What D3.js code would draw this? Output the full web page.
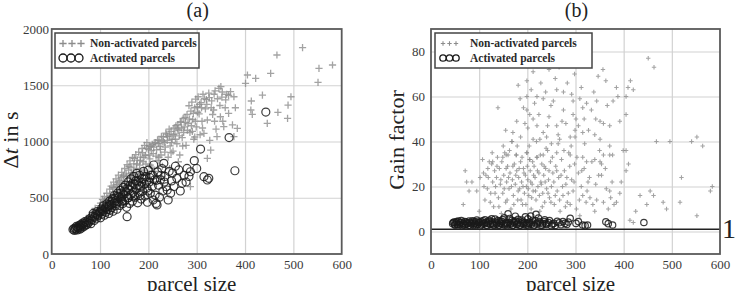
<!DOCTYPE html>
<html><head><meta charset="utf-8">
<script src="https://cdn.jsdelivr.net/npm/d3@7"></script>
<style>
html,body{margin:0;padding:0;background:#fff;}
svg{display:block;font-family:"Liberation Serif","DejaVu Serif",serif;}
svg text{font-family:"Liberation Serif","DejaVu Serif",serif;}
</style></head>
<body><svg id="chart" width="739" height="291"></svg>
<script>
// ---------------- data ----------------
const panelTitles = ["(a)", "(b)"];
const xLabel = "parcel size";
const yLabelB = "Gain factor";
const legendLabels = ["Non-activated parcels", "Activated parcels"];
const xTicks = [0, 100, 200, 300, 400, 500, 600];
const yTicksA = [0, 500, 1000, 1500, 2000];
const yTicksB = [0, 20, 40, 60, 80];
const gainReference = 1;
const gainReferenceLabel = "1";

// panel (a): [parcel size, Δt in s]
const aNonActivated = [
[52,238],[56,221],[59,265],[63,247],[66,290],[69,262],[72,318],[74,284],[78,341],[81,300],[84,372],[87,329],[90,405],[93,356],[95,388],[99,430],[98,362],
[101,452],[103,398],[105,486],[107,425],[109,511],[111,463],[113,372],[114,540],[116,497],[118,452],[120,576],[121,515],[123,604],[125,471],[126,553],[128,639],[130,522],[131,590],[133,668],[135,545],[136,620],[138,701],[140,577],[141,655],[143,512],[145,726],[146,610],[148,688],[150,559],
[151,760],[153,642],[154,712],[156,795],[158,603],[159,745],[161,682],[162,828],[164,770],[166,640],[167,858],[169,725],[170,802],[172,690],[174,883],[175,760],[177,834],[179,705],[180,905],[182,790],[184,862],[185,668],[187,938],[189,820],[190,745],[192,965],[194,878],[195,800],[197,990],[199,712],[200,930],
[202,960],[203,846],[205,958],[207,772],[208,975],[210,892],[212,985],[213,735],[215,990],[217,926],[219,1015],[220,830],[222,1010],[224,958],[226,880],[227,1046],[229,780],[231,1040],[233,990],[234,905],[236,1075],[238,1065],[240,1043],[241,860],[243,1110],[245,962],[247,1090],[249,1020],
[251,915],[253,1120],[255,1068],[257,1140],[259,980],[261,1150],[263,1100],[265,880],[266,1172],[268,1175],[270,1035],[272,1205],[274,1130],[276,1215],[278,965],[280,1240],[282,1160],[284,1318],[286,1080],[288,1270],[290,1350],[292,1195],[294,1020],[296,1300],[298,1376],[299,1130],
[301,1310],[303,1398],[305,1245],[307,1060],[309,1345],[311,1180],[313,1420],[315,1072],[318,1290],[320,1372],[322,1191],[325,1430],[327,1010],[329,924],[331,1362],[333,1240],[335,1280],[338,1450],[340,1110],[342,1043],[346,1473],[348,1320],[349,1220],[352,1395],[354,1180],[356,1132],[359,1300],[362,1420],[366,1250],[370,1443],[374,1147],[377,1398],[380,1300],[384,1117],[377,1043],
[287,599],[322,850],[296,1040],[262,820],[244,760],[228,690],[210,640],[193,600],[176,560],[160,530],[142,470],[125,400],
[108,470],[119,505],[127,590],[134,600],[139,640],[144,680],[149,700],[155,690],[160,780],[165,720],[171,850],[176,800],[183,830],[188,900],[191,860],[196,940],[201,880],[206,920],[211,950],[216,870],[221,980],[225,930],[230,1000],[235,950],[239,1010],[244,1050],[248,990],[252,1060],[256,1020],[260,1110],[264,1050],[269,1120],[273,1080],[277,1170],[281,1100],[285,1200],[289,1140],[293,1250],[297,1180],[302,1260],[306,1330],[310,1300],[316,1380],[321,1330],[326,1390],[330,1300],[336,1420],[343,1380],[353,1440],[360,1370],[366,1410],[168,650],[186,720],[204,790],[222,860],[247,900],[271,960],[291,1090],[312,1120],[337,1180],
[350,1487],[405,1591],[422,1561],[401,1517],[453,1606],[466,1769],[519,1834],[553,1650],[581,1680],[551,1526],[436,1413],[413,1360],[495,1398],[489,1324],[468,1259],[488,1206],[446,1161],[412,1280],[415,1242]
];
const aActivated = [
[44,218],[46,226],[47,210],[49,232],[50,221],[51,245],[53,214],[54,236],[55,228],[56,252],[58,220],[59,241],[60,262],[61,230],[63,254],[64,275],[66,242],[67,268],[69,289],[70,255],[72,280],[73,262],[75,301],[76,276],[78,292],[80,318],[81,270],[83,305],[85,336],[86,361],[88,298],[89,330],[91,352],[93,318],[94,378],[96,340],[98,365],[100,376],[101,322],[103,402],[104,355],[106,381],[107,428],[109,345],[111,409],[112,372],[114,446],[115,395],[117,421],[118,360],[120,470],[121,391],[123,440],[124,412],[126,492],[127,380],[129,455],[130,520],[132,428],[133,475],[135,398],[136,540],[138,462],[139,505],[141,432],[142,566],[144,488],[145,509],[147,448],[148,592],[149,530],[151,471],[152,612],[154,552],[155,415],[156,332],[157,498],[158,640],[160,575],[161,450],[163,525],[164,668],[166,598],[167,470],[169,548],[170,690],[172,622],[173,505],[175,580],[176,717],[178,455],[179,650],[181,540],[182,700],[184,602],[185,488],[187,672],[188,560],[190,735],[192,620],[193,515],[195,690],[197,587],[198,460],[200,745],[202,640],[204,540],[206,702],[208,599],[210,480],[211,791],[213,660],[214,524],[216,450],[218,436],[219,730],[221,612],[223,505],[225,660],[228,760],[230,560],[232,806],[234,690],[237,598],[239,569],[241,480],[243,735],[246,540],[248,650],[250,720],[253,600],[256,780],[259,673],[263,747],[266,560],[270,628],[274,700],[278,640],[280,761],[284,690],[287,731],[295,830],[300,760],[308,933],[315,687],[322,658],[325,673],[367,1035],[379,740],[443,1262],
[95,350],[105,392],[113,420],[119,440],[125,468],[131,495],[137,515],[143,540],[150,560],[157,585],[162,610],[168,630],[174,650],[180,612],[186,640],[191,668],[196,640],[203,680],[209,700],[217,655],[226,700],[233,640],[120,430],[134,450],[146,470],[159,500],[171,520],[183,520],[199,560]
];

// panel (b): [parcel size, gain factor]
const bNonActivated = [
[67,12],[71,27],[74,22],[79,18],[85,22],[95,18],[100,9],[102,24],[107,32],[109,26],[112,14],[114,25],[117,19],[119,24],[121,31],[124,17],[126,30],[128,22],[130,11],[132,27],[134,20],[136,24],[138,33],[140,15],[142,28],[144,21],[146,8],[147,31],[149,17],[151,25],[153,35],[155,13],[157,22],[159,29],[160,34],[162,19],[164,26],[166,10],[168,40],[169,23],[171,16],[173,30],[175,21],[177,34],[178,27],[180,14],[182,24],[184,19],[186,31],[188,22],[190,12],[192,28],[194,17],[196,25],[198,20],[199,35],[201,23],[203,16],[205,32],[206,27],[208,10],[210,21],[212,18],[214,29],[216,24],[218,14],[220,33],[222,20],[224,26],[226,9],[228,22],[230,30],[232,17],[234,25],[236,13],[238,28],[240,19],[242,36],[244,23],[246,15],[248,31],[250,20],[253,26],[256,12],[259,29],[262,18],[265,24],[268,9],[271,32],[274,16],[277,27],[280,21],[283,13],[286,35],[289,12],[292,23],[295,18],[298,30],[302,10],[306,26],[309,7],[312,20],[315,16],[318,28],[322,13],[326,22],[330,15],[334,31],[340,9],[344,14],[348,25],[354,30],[358,13],[364,19],[371,18],[373,15],[380,12],[385,13],[395,22],[405,27],[413,5],[420,4],[434,16],[448,12],[455,18],[462,16],[482,13],[489,10],[517,13],[520,24],[552,7],[580,18],
[110,20],[118,28],[123,13],[127,35],[133,17],[137,29],[141,11],[145,23],[150,38],[152,19],[156,28],[158,14],[161,24],[163,36],[167,20],[170,29],[172,12],[176,25],[179,38],[181,18],[183,28],[187,14],[189,33],[191,20],[193,26],[197,12],[200,29],[202,19],[204,38],[207,22],[209,15],[211,31],[213,25],[217,18],[219,40],[221,27],[225,16],[227,34],[229,21],[231,11],[235,29],[237,22],[239,37],[243,17],[245,27],[249,13],[252,33],[255,22],[258,16],[261,27],[264,39],[267,14],[270,25],[273,20],[276,36],[279,11],[282,24],[285,17],[288,29],[291,38],[297,22],[303,33],[308,14],[313,27],[319,39],[324,18],[329,24],[336,12],[342,21],[350,36],[362,28],[368,10],[376,22],[392,17],[410,30],[425,9],
[128,31],[149,33],[156,34],[177,34],[199,35],[205,32],[220,33],[233,34],[261,35],[289,34],[315,33],[323,31],[340,32],[351,31],[354,25],[358,34],[371,34],[377,34],[371,38],[399,36],[405,36],[340,43],[299,42],[468,40],[496,40],[552,42],
[139,55],[181,65],[199,67],[170,44],[212,71],[245,72],[266,73],[286,79],[304,79],[315,76],[357,72],[347,69],[363,67],[385,64],[409,64],[405,60],[388,60],[405,52],[451,77],[463,73],[185,59],[199,60],[220,60],[233,59],[254,58],[261,63],[275,62],[295,58],[309,59],[323,57],[344,58],[315,55],[333,54],[295,52],[301,50],[351,49],[358,48],[371,47],[199,54],[205,52],[212,50],[195,48],[201,46],[220,47],[233,44],[245,51],[275,54],[261,47],[272,49],[289,42],[299,45],[250,39],[267,41],[240,42],[226,41],[212,41],[315,44],[351,41],[168,40],
[155,45],[178,49],[186,42],[192,55],[208,63],[215,57],[224,52],[228,66],[238,62],[242,47],[249,56],[258,68],[264,43],[280,48],[283,66],[292,61],[298,70],[306,47],[312,64],[318,50],[327,45],[338,62],[342,50],[366,56],[378,58],[392,49],[414,67],[420,63],[541,40],[564,38],[584,20]
];
const bActivated = [
[45,3.5],[48,4.2],[50,2.8],[52,3.9],[55,3.2],[57,4.6],[60,3.0],[62,4.0],[65,2.6],[67,3.7],[70,4.4],[72,3.1],[75,3.8],[78,2.7],[80,4.1],[83,3.4],[86,4.8],[88,2.9],[91,3.6],[94,4.3],[96,3.0],[99,3.9],[102,2.5],[104,4.5],[107,3.3],[110,3.9],[112,5.2],[115,2.8],[118,3.7],[120,4.4],[123,3.1],[126,5.6],[128,3.5],[131,2.7],[134,4.2],[136,3.3],[139,4.9],[142,2.9],[144,3.8],[147,4.5],[150,3.0],[152,6.1],[155,3.6],[158,2.6],[160,7.9],[162,4.0],[165,3.2],[168,5.0],[170,2.8],[173,3.9],[176,4.6],[178,3.1],[181,5.4],[184,2.7],[187,3.7],[190,4.3],[193,3.0],[196,6.5],[199,3.5],[202,2.6],[205,4.1],[208,3.2],[211,5.0],[214,2.9],[218,7.6],[221,3.8],[225,4.4],[228,2.7],[232,3.5],[236,5.2],[240,3.1],[244,4.0],[250,2.6],[255,3.6],[262,4.5],[270,3.0],[278,3.6],[285,4.2],[289,5.9],[301,3.6],[306,4.4],[315,2.9],[320,2.6],[325,2.9],[363,4.3],[368,3.5],[377,2.9],[442,4.0],
[46,4.0],[49,3.1],[53,4.4],[56,2.9],[59,3.8],[63,4.9],[66,3.3],[69,2.8],[73,4.2],[76,3.5],[79,4.7],[82,2.6],[85,3.9],[89,4.4],[92,2.8],[95,5.1],[98,3.3],[101,4.1],[105,2.9],[108,4.8],[111,3.4],[114,4.0],[117,2.6],[121,5.0],[124,3.6],[127,4.3],[130,3.0],[133,5.5],[137,3.8],[140,2.7],[143,4.6],[146,3.4],[149,5.3],[153,2.9],[156,4.1],[159,3.3],[163,5.8],[166,3.7],[169,2.7],[172,4.5],[175,6.8],[179,3.4],[182,4.2],[186,2.9],[189,5.1],[192,3.7],[195,4.0],[198,2.8],[201,5.6],[204,3.4],[207,6.9],[210,3.9],[213,2.6],[216,4.7],[220,3.3],[223,6.0],[227,3.9],[231,2.8],[235,4.4],[239,3.6],[246,4.9],[252,3.3],[258,2.7],[266,3.9],[274,4.4],[282,3.1]
];

// ---------------- drawing ----------------
const svg = d3.select("#chart");
const FONT = '"Liberation Serif","DejaVu Serif",serif';
const panels = [
  {title: panelTitles[0], xr: [51.7, 341.7], yDom: [0, 2000], yTicks: yTicksA,
   non: aNonActivated, act: aActivated, cross: 3.6, crossW: 1.3, r: 4, tickRight: 49, ylabX: 18,
   legend: {x: 55, y: 33, w: 144, h: 35}},
  {title: panelTitles[1], xr: [431, 720], yDom: [-10, 90], yTicks: yTicksB,
   non: bNonActivated, act: bActivated, cross: 2.2, crossW: 1.1, r: 3.2, tickRight: 425, ylabX: 404,
   legend: {x: 435, y: 33, w: 157, h: 35}, refLine: true}
];
const yr = [254, 29];

panels.forEach((p, i) => {
  const x = d3.scaleLinear().domain([0, 600]).range(p.xr);
  const y = d3.scaleLinear().domain(p.yDom).range(yr);
  const g = svg.append("g");

  // grid
  g.append("g").attr("transform", `translate(0,${yr[0]})`)
    .call(d3.axisBottom(x).tickValues(xTicks.slice(1, -1)).tickSize(-(yr[0] - yr[1])).tickFormat(""))
    .call(s => s.select(".domain").remove())
    .call(s => s.selectAll("line").attr("stroke", "#d2d2d2").attr("stroke-width", 1.2));
  g.append("g").attr("transform", `translate(${p.xr[0]},0)`)
    .call(d3.axisLeft(y).tickValues(p.yTicks.filter(v => v > p.yDom[0] && v < p.yDom[1])).tickSize(-(p.xr[1] - p.xr[0])).tickFormat(""))
    .call(s => s.select(".domain").remove())
    .call(s => s.selectAll("line").attr("stroke", "#d2d2d2").attr("stroke-width", 1.2));

  // non-activated crosses
  const c = p.cross;
  g.append("g").selectAll("path").data(p.non).join("path")
    .attr("d", d => `M${x(d[0]) - c},${y(d[1])}H${x(d[0]) + c}M${x(d[0])},${y(d[1]) - c}V${y(d[1]) + c}`)
    .attr("stroke", "#8c8c8c").attr("stroke-width", p.crossW).attr("fill", "none").attr("opacity", 0.8);

  // activated circles
  g.append("g").selectAll("circle").data(p.act).join("circle")
    .attr("cx", d => x(d[0])).attr("cy", d => y(d[1])).attr("r", p.r)
    .attr("fill", "none").attr("stroke", "#1a1a1a").attr("stroke-width", 1.2).attr("opacity", 0.85);

  if (p.refLine) {
    g.append("line").attr("x1", p.xr[0]).attr("x2", p.xr[1])
      .attr("y1", y(gainReference)).attr("y2", y(gainReference))
      .attr("stroke", "#222").attr("stroke-width", 1.3);
    g.append("text").attr("x", 722).attr("y", 238).style("font-size", "28px").style("font-family", FONT)
      .attr("fill", "#222").text(gainReferenceLabel);
  }

  // frame
  g.append("rect").attr("x", p.xr[0]).attr("y", yr[1])
    .attr("width", p.xr[1] - p.xr[0]).attr("height", yr[0] - yr[1])
    .attr("fill", "none").attr("stroke", "#5a5a5a").attr("stroke-width", 1.8);

  // tick labels
  g.append("g").attr("transform", `translate(0,${yr[0]})`)
    .call(d3.axisBottom(x).tickValues(xTicks).tickSize(0).tickPadding(6).tickFormat(d3.format("d")))
    .call(s => s.select(".domain").remove())
    .call(s => s.selectAll("text").style("font-family", FONT).style("font-size", "13px").attr("fill", "#3a3a3a"));
  g.append("g").attr("transform", `translate(${p.tickRight},0)`)
    .call(d3.axisLeft(y).tickValues(p.yTicks).tickSize(0).tickPadding(0).tickFormat(d3.format("d")))
    .call(s => s.select(".domain").remove())
    .call(s => s.selectAll("text").style("font-family", FONT).style("font-size", "13px").attr("fill", "#3a3a3a"));

  // title
  g.append("text").attr("x", (p.xr[0] + p.xr[1]) / 2 + 1).attr("y", 17).attr("text-anchor", "middle")
    .style("font-size", "20px").style("font-family", FONT).attr("fill", "#222").text(p.title);
  // x label
  g.append("text").attr("x", (p.xr[0] + p.xr[1]) / 2 - 5).attr("y", 291).attr("text-anchor", "middle")
    .style("font-size", "21px").style("font-family", FONT).attr("fill", "#222").text(xLabel);
  // y label
  const yl = g.append("text").attr("transform", `translate(${p.ylabX},140) rotate(-90)`).attr("text-anchor", "middle")
    .style("font-size", "22px").style("font-family", FONT).attr("fill", "#222");
  if (i === 0) {
    yl.append("tspan").text("Δ");
    yl.append("tspan").style("font-style", "italic").text("t");
    yl.append("tspan").text(" in s");
  } else {
    yl.text(yLabelB);
  }

  // legend
  const L = p.legend;
  const lg = g.append("g");
  lg.append("rect").attr("x", L.x).attr("y", L.y).attr("width", L.w).attr("height", L.h)
    .attr("fill", "#fff").attr("stroke", "#444").attr("stroke-width", 1.5);
  const sx = L.x + 8;
  [0, 1, 2].forEach(k => {
    const cx = sx + k * (i === 0 ? 9 : 6.5), cy = L.y + 10.5;
    lg.append("path").attr("d", `M${cx - c},${cy}H${cx + c}M${cx},${cy - c}V${cy + c}`)
      .attr("stroke", "#8c8c8c").attr("stroke-width", p.crossW).attr("fill", "none");
    lg.append("circle").attr("cx", sx + k * (i === 0 ? 8 : 6.5)).attr("cy", L.y + 25).attr("r", p.r)
      .attr("fill", "none").attr("stroke", "#1a1a1a").attr("stroke-width", 1.3);
  });
  lg.append("text").attr("x", L.x + 35).attr("y", L.y + 14).style("font-size", "11.5px").style("font-weight", "bold")
    .style("font-family", FONT).attr("fill", "#2a2a2a").text(legendLabels[0]);
  lg.append("text").attr("x", L.x + 35).attr("y", L.y + 28.5).style("font-size", "11.5px").style("font-weight", "bold")
    .style("font-family", FONT).attr("fill", "#2a2a2a").text(legendLabels[1]);
});
</script>
</body></html>
